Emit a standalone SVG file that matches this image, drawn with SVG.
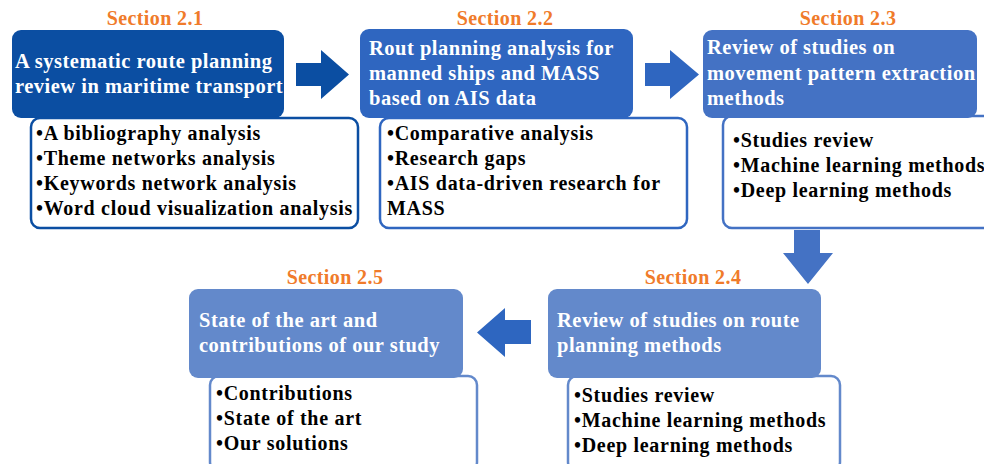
<svg xmlns="http://www.w3.org/2000/svg" width="984" height="464" viewBox="0 0 984 464">
<style>
.sec{font-family:"Liberation Serif","Times New Roman",serif;font-weight:bold;font-size:20px;letter-spacing:0.4px;fill:#F07B2A;text-anchor:middle}
.hd{font-family:"Liberation Serif","Times New Roman",serif;font-weight:bold;font-size:20.5px;letter-spacing:0.5px;fill:#ffffff}
.it{font-family:"Liberation Serif","Times New Roman",serif;font-weight:bold;font-size:20px;letter-spacing:0.7px;fill:#000000}
.sub{fill:#ffffff;stroke-width:2.5}
</style>
<rect width="984" height="464" fill="#ffffff"/>
<g id="connectors">
<polygon points="296,63 321,63 321,50 349,74.5 321,99 321,86 296,86" fill="#0B4EA2"/>
<polygon points="645,63 670,63 670,50 699,74.5 670,99 670,86 645,86" fill="#2F66C0"/>
<polygon points="794,230 820,230 820,253 833,253 808,284 783,253 794,253" fill="#4472C4"/>
<polygon points="531,320 505,320 505,308 477,332.5 505,357 505,344 531,344" fill="#2E66C0"/>
</g>
<g id="s21">
<text class="sec" x="155" y="25">Section 2.1</text>
<rect x="12" y="30" width="272" height="88" rx="9" fill="#0B4EA2"/>
<text class="hd" x="15" y="68">A systematic route planning</text>
<text class="hd" x="15" y="93">review in maritime transport</text>
<rect class="sub" x="31" y="118" width="327" height="110" rx="9" stroke="#0B4EA2"/>
<text class="it" x="36" y="140">•A bibliography analysis</text>
<text class="it" x="36" y="165">•Theme networks analysis</text>
<text class="it" x="36" y="190">•Keywords network analysis</text>
<text class="it" x="36" y="215">•Word cloud visualization analysis</text>
</g>
<g id="s22">
<text class="sec" x="505" y="25">Section 2.2</text>
<rect x="360" y="29" width="273" height="89" rx="9" fill="#2F66C0"/>
<text class="hd" x="369" y="55">Rout planning analysis for</text>
<text class="hd" x="369" y="80">manned ships and MASS</text>
<text class="hd" x="369" y="105">based on AIS data</text>
<rect class="sub" x="380" y="118" width="307" height="110" rx="9" stroke="#2F66C0"/>
<text class="it" x="387" y="140">•Comparative analysis</text>
<text class="it" x="387" y="165">•Research gaps</text>
<text class="it" x="387" y="190">•AIS data-driven research for</text>
<text class="it" x="387" y="215">MASS</text>
</g>
<g id="s23">
<text class="sec" x="848" y="25">Section 2.3</text>
<rect class="sub" x="723" y="116" width="280" height="112" rx="9" stroke="#4472C4"/>
<rect x="703" y="30" width="274" height="88" rx="9" fill="#4472C4"/>
<text class="hd" x="707" y="54">Review of studies on</text>
<text class="hd" x="707" y="80">movement pattern extraction</text>
<text class="hd" x="707" y="105">methods</text>
<text class="it" x="733" y="147">•Studies review</text>
<text class="it" x="733" y="172">•Machine learning methods</text>
<text class="it" x="733" y="197">•Deep learning methods</text>
</g>
<g id="s24">
<text class="sec" x="693" y="284">Section 2.4</text>
<rect class="sub" x="568" y="376" width="272" height="95" rx="9" stroke="#6389CB"/>
<rect x="548" y="289" width="273" height="89" rx="9" fill="#6389CB"/>
<text class="hd" x="557" y="327">Review of studies on route</text>
<text class="hd" x="557" y="352">planning methods</text>
<text class="it" x="574" y="402">•Studies review</text>
<text class="it" x="574" y="427">•Machine learning methods</text>
<text class="it" x="574" y="452">•Deep learning methods</text>
</g>
<g id="s25">
<text class="sec" x="335" y="284">Section 2.5</text>
<rect class="sub" x="210" y="376" width="267" height="95" rx="9" stroke="#6389CB"/>
<rect x="189" y="289" width="274" height="89" rx="9" fill="#6389CB"/>
<text class="hd" x="199" y="327">State of the art and</text>
<text class="hd" x="199" y="352">contributions of our study</text>
<text class="it" x="216" y="400">•Contributions</text>
<text class="it" x="216" y="425">•State of the art</text>
<text class="it" x="216" y="450">•Our solutions</text>
</g>
</svg>
